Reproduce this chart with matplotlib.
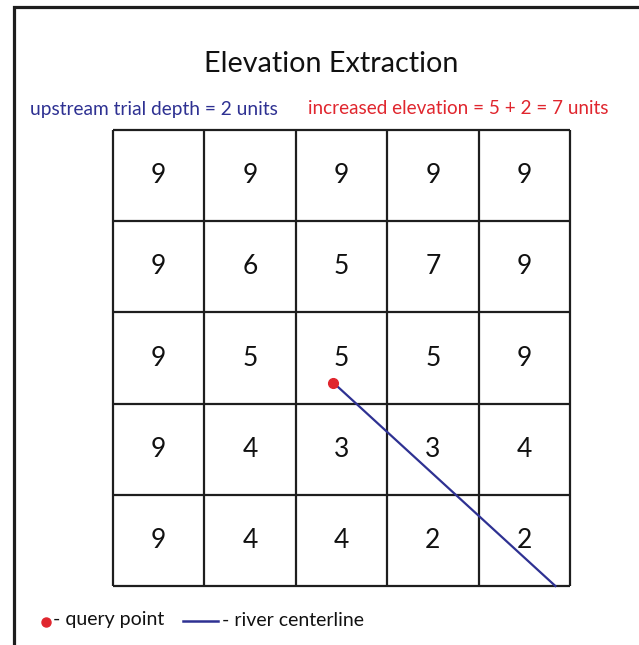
import matplotlib.pyplot as plt
from matplotlib.lines import Line2D

plt.rcParams["font.family"] = ["Lato", "DejaVu Sans"]

# elevation grid, row 0 at top
elevation = [
    [9, 9, 9, 9, 9],
    [9, 6, 5, 7, 9],
    [9, 5, 5, 5, 9],
    [9, 4, 3, 3, 4],
    [9, 4, 4, 2, 2],
]
# query point and river centerline in cell units (x = column, y = row from top)
query_x, query_y = 2.41, 2.77
river_x = [2.41, 4.84]
river_y = [2.77, 5.0]

title = "Elevation Extraction"
depth_label = "upstream trial depth = 2 units"
elev_label = "increased elevation = 5 + 2 = 7 units"

BLUE = "#2e3192"
RED = "#e0262e"
INK = "#1e1e1e"

fig = plt.figure(figsize=(6.39, 6.45), dpi=100)
ax = fig.add_axes([113 / 639, 1 - 586 / 645, 457 / 639, 456 / 645])

n_rows, n_cols = len(elevation), len(elevation[0])
ax.set_xlim(0, n_cols)
ax.set_ylim(n_rows, 0)
ax.axis("off")

ax.hlines(range(n_rows + 1), 0, n_cols, color=INK, lw=1.6, clip_on=False)
ax.vlines(range(n_cols + 1), 0, n_rows, color=INK, lw=1.6, clip_on=False)

for r, row in enumerate(elevation):
    for c, val in enumerate(row):
        ax.text(c + 0.5, r + 0.5, str(val), ha="center", va="center",
                fontsize=19, color="#111111")

ax.plot(river_x, river_y, color=BLUE, lw=1.6, clip_on=False, zorder=3)
ax.plot(query_x, query_y, "o", color=RED, ms=7, clip_on=False, zorder=4)

# title and subtitles
fig.text(331 / 639, 1 - 64 / 645, title, ha="center", va="center",
         fontsize=20.7, color="#111111")
fig.text(30 / 639, 1 - 109 / 645, depth_label, ha="left", va="center",
         fontsize=13.8, color=BLUE)
fig.text(308 / 639, 1 - 109 / 645, elev_label, ha="left", va="center",
         fontsize=13.6, color=RED)

# legend
fig.add_artist(Line2D([46 / 639], [1 - 622 / 645], marker="o", color=RED,
                      ms=6.5, lw=0, transform=fig.transFigure))
fig.text(53 / 639, 1 - 620 / 645, "- query point", ha="left", va="center",
         fontsize=14, color="#111111")
fig.add_artist(Line2D([183 / 639, 218 / 639], [1 - 621 / 645] * 2,
                      color=BLUE, lw=1.8, transform=fig.transFigure))
fig.text(222 / 639, 1 - 620 / 645, "- river centerline", ha="left", va="center",
         fontsize=14, color="#111111")

# outer frame (top and left edges)
fig.add_artist(Line2D([13.5 / 639, 13.5 / 639, 1], [0, 1 - 6.5 / 645, 1 - 6.5 / 645],
                      color=INK, lw=2.3, transform=fig.transFigure,
                      solid_joinstyle="miter"))

fig.savefig("out.png", dpi=100, facecolor="white")
